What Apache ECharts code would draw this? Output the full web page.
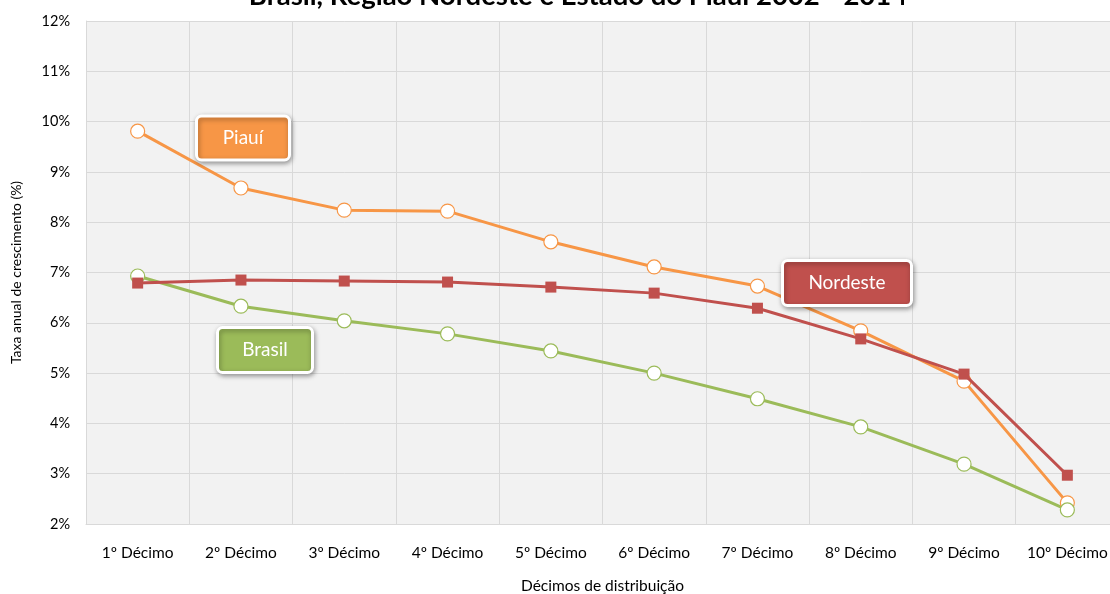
<!DOCTYPE html>
<html><head><meta charset="utf-8">
<script src="https://cdn.jsdelivr.net/npm/echarts@6/dist/echarts.min.js"></script>
<style>html,body{margin:0;padding:0;overflow:hidden;background:#fff}#c{width:1126px;height:594px}</style>
</head><body><div id="c"></div>
<script>
const categories = ['1º Décimo','2º Décimo','3º Décimo','4º Décimo','5º Décimo','6º Décimo','7º Décimo','8º Décimo','9º Décimo','10º Décimo'];
const piaui    = [9.81, 8.68, 8.24, 8.22, 7.61, 7.11, 6.73, 5.84, 4.84, 2.42];
const nordeste = [6.79, 6.85, 6.83, 6.81, 6.71, 6.59, 6.29, 5.68, 4.98, 2.97];
const brasil   = [6.93, 6.33, 6.04, 5.78, 5.44, 5.00, 4.49, 3.93, 3.19, 2.28];
const yTicks = [2,3,4,5,6,7,8,9,10,11,12];
const titleText = 'Brasil, Região Nordeste e Estado do Piauí 2002 - 2014';

const font = 'Lato, "Open Sans", sans-serif';
const chart = echarts.init(document.getElementById('c'));
function box(cx, cy, w, h, color, text) {
  return {
    type: 'group', x: cx - w/2, y: cy - h/2,
    children: [
      {type:'rect', z:100, shape:{x:0,y:0,width:w,height:h,r:5}, style:{fill:color, stroke:'#fff', lineWidth:3, shadowBlur:5, shadowOffsetX:1, shadowOffsetY:2, shadowColor:'rgba(0,0,0,0.35)'}},
      {type:'text', z:101, style:{x:w/2, y:h/2, text:text, fill:'#fff', font:'19px ' + font, align:'center', verticalAlign:'middle'}}
    ]
  };
}
function circleSeries(name, data, color) {
  return {name, type:'line', data, symbol:'circle', symbolSize:14,
    lineStyle:{color, width:3}, itemStyle:{color:'#fff', borderColor:color, borderWidth:1.2}, z:3};
}
chart.setOption({
  animation:false,
  title:{text:titleText, left:578, textAlign:'center', top:-18, padding:0, textStyle:{fontFamily:font, fontSize:27.5, fontWeight:'bold', color:'#000'}},
  grid:{left:86, right:7, top:21, bottom:70, outerBoundsMode:'none', containLabel:false, show:true, backgroundColor:'#f2f2f2', borderWidth:0},
  xAxis:{type:'category', data:categories, boundaryGap:true,
    name:'Décimos de distribuição', nameLocation:'middle', nameGap:54,
    nameTextStyle:{fontFamily:font, fontSize:15.5, color:'#000'},
    axisLine:{show:true, lineStyle:{color:'#d9d9d9'}}, axisTick:{show:false},
    axisLabel:{fontFamily:font, fontSize:15.5, color:'#000', margin:21, interval:0},
    splitLine:{show:true, lineStyle:{color:'#d9d9d9', width:1}}},
  yAxis:{type:'value', min:yTicks[0], max:yTicks[yTicks.length-1], interval:1,
    name:'Taxa anual de crescimento (%)', nameLocation:'middle', nameGap:63, nameRotate:90,
    nameTextStyle:{fontFamily:font, fontSize:14, color:'#000'},
    axisLine:{show:true, lineStyle:{color:'#d9d9d9'}}, axisTick:{show:false},
    axisLabel:{fontFamily:font, fontSize:14.5, color:'#000', margin:16, formatter: v => v + '%'},
    splitLine:{show:true, lineStyle:{color:'#d9d9d9', width:1}}},
  series:[
    circleSeries('Piauí', piaui, '#f79646'),
    circleSeries('Brasil', brasil, '#9bbb59'),
    {name:'Nordeste', type:'line', data:nordeste, symbol:'rect', symbolSize:11,
      lineStyle:{color:'#c0504d', width:3}, itemStyle:{color:'#c0504d'}, z:4}
  ],
  graphic:[
    box(243, 138, 93, 44, '#f79646', 'Piauí'),
    box(265, 350, 95, 45, '#9bbb59', 'Brasil'),
    box(847, 283, 129, 45, '#c0504d', 'Nordeste')
  ]
});
</script></body></html>
